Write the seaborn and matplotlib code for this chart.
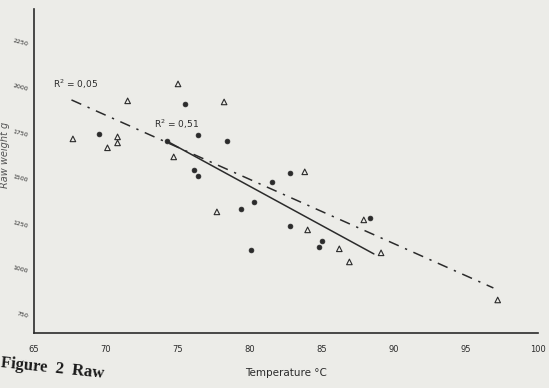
import numpy as np
import pandas as pd
import matplotlib
matplotlib.use('Agg')
import matplotlib.pyplot as plt
import seaborn as sns

# Points
tri_temp = [67.7, 71.5, 75.0, 70.1, 70.8, 70.8, 74.7, 78.2, 83.8, 77.7,
            84.0, 87.9, 86.2, 86.9, 89.1, 97.2]
tri_weight = [1706, 1915, 2008, 1657, 1717, 1684, 1607, 1909, 1525, 1305,
              1206, 1261, 1102, 1030, 1080, 821]

dot_temp = [69.5, 75.5, 76.4, 78.4, 74.2, 76.1, 76.4, 81.5, 82.8, 80.3,
            79.4, 82.8, 80.1, 88.3, 85.0, 84.8]
dot_weight = [1734, 1898, 1728, 1695, 1695, 1536, 1503, 1470, 1519, 1360,
              1321, 1228, 1096, 1272, 1146, 1113]

# regression line end points
fit_a_temp = [74.2, 88.6]
fit_a_weight = [1695, 1074]
fit_b_temp = [67.6, 96.9]
fit_b_weight = [1920, 887]

x_ticks = [65, 70, 75, 80, 85, 90, 95, 100]
y_ticks = [750, 1000, 1250, 1500, 1750, 2000, 2250]

paper = '#ecece8'
ink = '#2b2b2b'

sns.set_style('white')
plt.rcParams['font.family'] = ['DejaVu Sans']

fig = plt.figure(figsize=(5.49, 3.88), dpi=100, facecolor=paper)
ax = fig.add_axes([0.062, 0.142, 0.918, 0.835], facecolor=paper)

tri = pd.DataFrame({'temp': tri_temp, 'weight': tri_weight})
dots = pd.DataFrame({'temp': dot_temp, 'weight': dot_weight})

sns.lineplot(x=fit_a_temp, y=fit_a_weight, ax=ax, color=ink, lw=1.1)
sns.lineplot(x=fit_b_temp, y=fit_b_weight, ax=ax, color=ink, lw=1.1,
             dashes=False, linestyle=(0, (7, 4.5, 1.5, 4.5)))

sns.scatterplot(data=tri, x='temp', y='weight', ax=ax, marker='^', s=16,
                facecolor='none', edgecolor=ink, linewidth=0.8)
sns.scatterplot(data=dots, x='temp', y='weight', ax=ax, marker='o', s=12,
                color=ink, edgecolor=ink, linewidth=0.5)

ax.text(66.3, 1985, 'R$^2$ = 0,05', fontsize=6.5, color=ink)
ax.text(73.3, 1765, 'R$^2$ = 0,51', fontsize=6.5, color=ink)

ax.set_xlim(65, 100)
ax.set_ylim(640, 2420)
ax.set_xticks(x_ticks)
ax.set_yticks(y_ticks)
ax.tick_params(axis='x', direction='inout', length=6, width=0.9, colors=ink,
               labelsize=6, pad=6)
ax.tick_params(axis='y', direction='inout', length=4, width=0.8, colors=ink,
               labelsize=4.5, pad=2)
for lab in ax.get_yticklabels():
    lab.set_rotation(-15)

for side in ['top', 'right']:
    ax.spines[side].set_visible(False)
for side in ['left', 'bottom']:
    ax.spines[side].set_color(ink)
    ax.spines[side].set_linewidth(1.2)

ax.set_xlabel('Temperature °C', fontsize=7.5, color=ink, labelpad=10)
ax.set_ylabel('Raw weight g', fontsize=7, color='#555555', style='italic')
ax.yaxis.set_label_coords(-0.048, 0.55)

fig.text(0.0, 0.025, 'Figure  2  Raw', fontsize=12, fontweight='bold',
         family='Liberation Serif', color='#1a1a1a', rotation=-6)

fig.savefig('out.png', dpi=100, facecolor=paper)
